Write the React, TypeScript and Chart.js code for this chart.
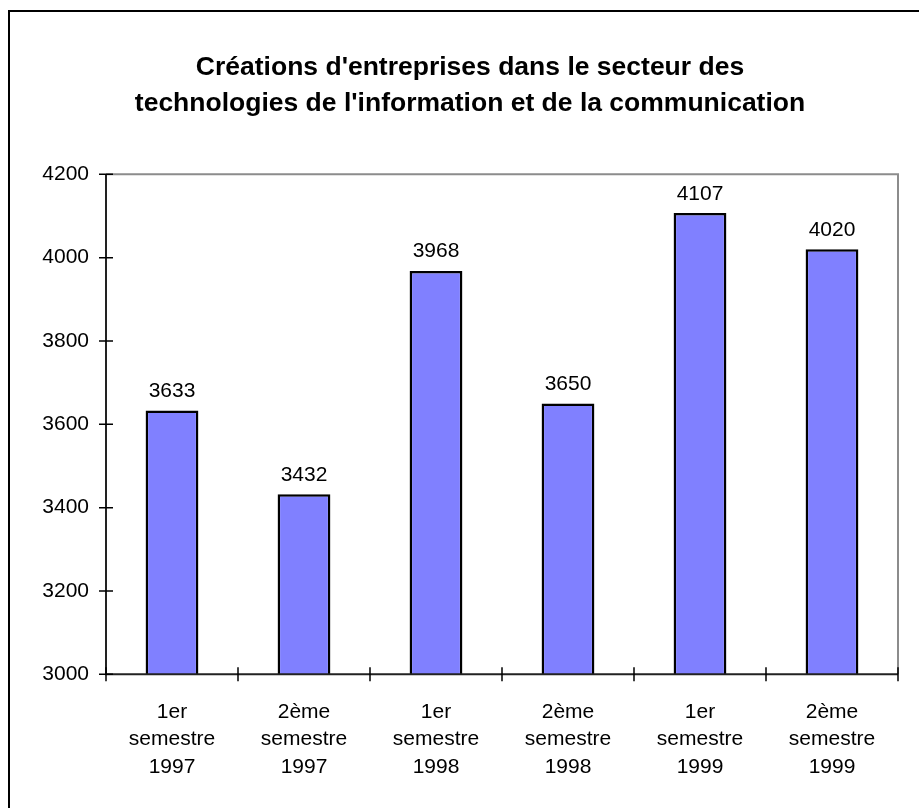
import React, { useEffect, useRef } from "react";
import { Chart, registerables } from "chart.js";

Chart.register(...registerables);

const titleLines = [
  "Créations d'entreprises dans le secteur des",
  "technologies de l'information et de la communication",
];
const categories = [
  ["1er", "semestre", "1997"],
  ["2ème", "semestre", "1997"],
  ["1er", "semestre", "1998"],
  ["2ème", "semestre", "1998"],
  ["1er", "semestre", "1999"],
  ["2ème", "semestre", "1999"],
];
const values = [3633, 3432, 3968, 3650, 4107, 4020];
const yMin = 3000;
const yMax = 4200;
const yStep = 200;

const FONT = "'Liberation Sans', Arial, sans-serif";

const framePlugin = {
  id: "framePlugin",
  beforeDraw(chart: any) {
    const ctx = chart.ctx;
    ctx.save();
    ctx.fillStyle = "#000";
    ctx.fillRect(8, 10, 2, chart.height);
    ctx.fillRect(8, 10, chart.width, 2);
    ctx.restore();
  },
  afterDatasetsDraw(chart: any) {
    const ctx = chart.ctx;
    const { left, right, top, bottom } = chart.chartArea;
    const xs = chart.scales.x;
    const ys = chart.scales.y;
    ctx.save();
    // gray top/right frame
    ctx.strokeStyle = "#8c8c8c";
    ctx.lineWidth = 2;
    ctx.beginPath();
    ctx.moveTo(left, top);
    ctx.lineTo(right, top);
    ctx.lineTo(right, bottom);
    ctx.stroke();
    // black axes
    ctx.strokeStyle = "#222";
    ctx.beginPath();
    ctx.moveTo(left, top);
    ctx.lineTo(left, bottom);
    ctx.lineTo(right, bottom);
    ctx.stroke();
    // ticks
    ctx.lineWidth = 1.5;
    ctx.strokeStyle = "#000";
    ctx.beginPath();
    ys.ticks.forEach((_: any, i: number) => {
      const y = ys.getPixelForTick(i);
      ctx.moveTo(left - 7, y);
      ctx.lineTo(left + 7, y);
    });
    for (let i = 0; i <= categories.length; i++) {
      const x = xs.getPixelForValue(i - 0.5);
      ctx.moveTo(x, bottom - 7);
      ctx.lineTo(x, bottom + 7);
    }
    ctx.stroke();
    // value labels
    ctx.fillStyle = "#000";
    ctx.font = `21px ${FONT}`;
    ctx.textAlign = "center";
    ctx.textBaseline = "alphabetic";
    const meta = chart.getDatasetMeta(0);
    meta.data.forEach((bar: any, i: number) => {
      ctx.fillText(String(values[i]), bar.x, bar.y - 13.5);
    });
    ctx.restore();
  },
};

export default function App() {
  const ref = useRef<HTMLCanvasElement | null>(null);
  useEffect(() => {
    if (!ref.current) return;
    const chart = new Chart(ref.current, {
      type: "bar",
      data: {
        labels: categories,
        datasets: [
          {
            data: values,
            backgroundColor: "#8080ff",
            borderColor: "#000",
            borderWidth: 2.5,
            borderSkipped: false,
            categoryPercentage: 1,
            barPercentage: 0.4,
          },
        ],
      },
      options: {
        responsive: false,
        animation: false,
        layout: { padding: { top: 10, left: 42, right: 21, bottom: 0 } },
        plugins: {
          legend: { display: false },
          tooltip: { enabled: false },
          title: {
            display: true,
            text: titleLines,
            color: "#000",
            font: { family: FONT, size: 26.5, weight: "bold", lineHeight: 36 / 26.5 },
            padding: { top: 39.5, bottom: 52.8 },
          },
        },
        scales: {
          x: {
            grid: { display: false, drawTicks: false },
            border: { display: false },
            ticks: {
              color: "#000",
              font: { family: FONT, size: 21, lineHeight: 27.5 / 21 },
              padding: 24,
              autoSkip: false,
              maxRotation: 0,
              minRotation: 0,
            },
            afterFit: (scale: any) => {
              scale.height = 133.7;
            },
          },
          y: {
            min: yMin,
            max: yMax,
            grid: { display: false, drawTicks: false },
            border: { display: false },
            ticks: {
              stepSize: yStep,
              color: "#000",
              font: { family: FONT, size: 21 },
              padding: 17,
              callback: (v: any) => String(v),
            },
            afterFit: (scale: any) => {
              scale.width = 64;
            },
          },
        },
      },
      plugins: [framePlugin],
    });
    return () => chart.destroy();
  }, []);
  return (
    <div style={{ position: "absolute", left: 0, top: 0, width: 919, height: 808 }}>
      <canvas ref={ref} width={919} height={808} style={{ width: 919, height: 808, display: "block" }} />
    </div>
  );
}
